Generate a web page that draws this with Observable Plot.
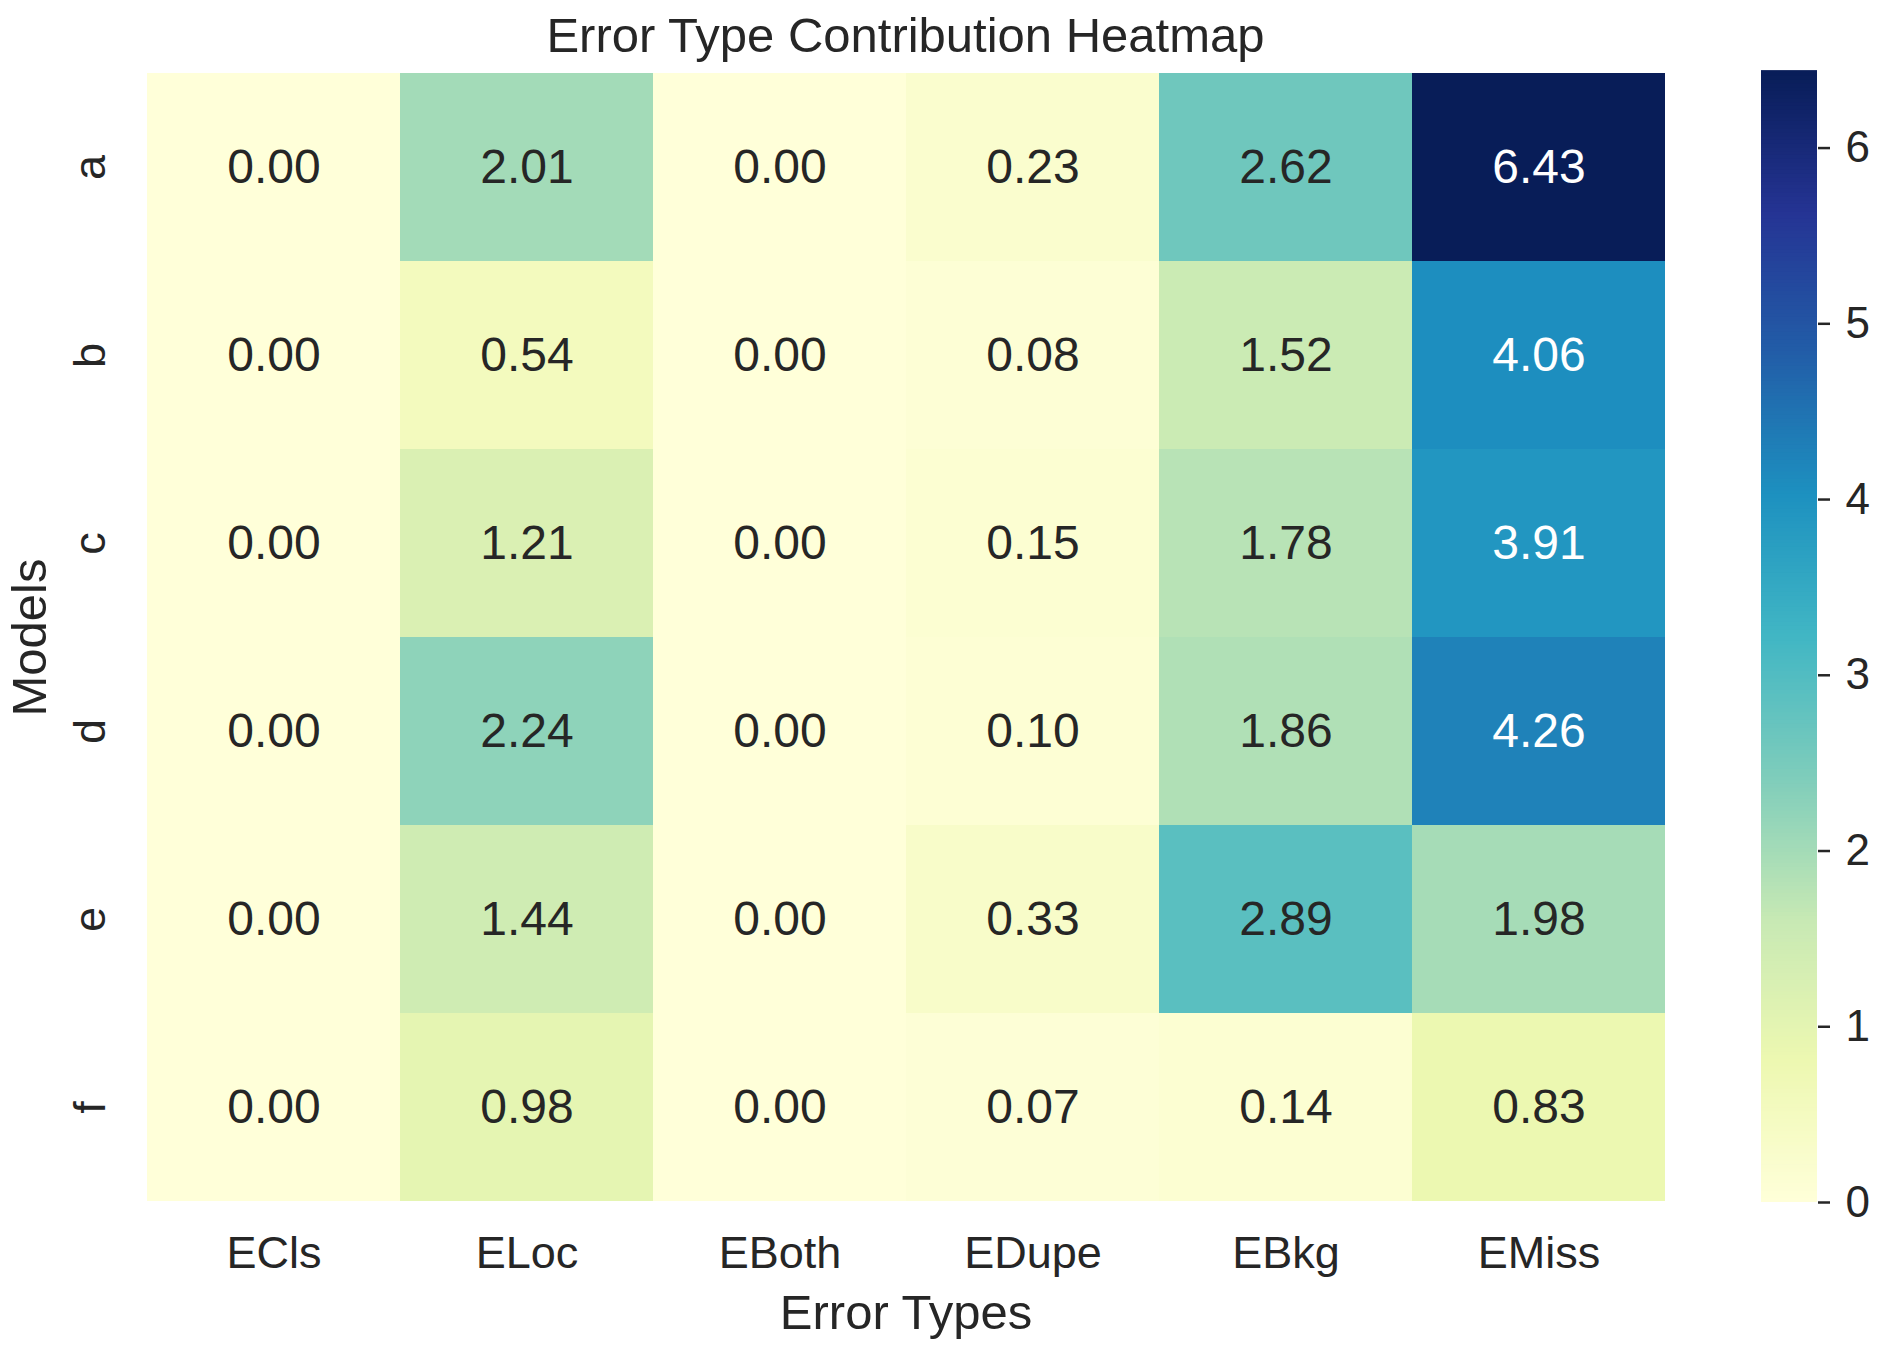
<!DOCTYPE html>
<html>
<head>
<meta charset="utf-8">
<script src="https://cdn.jsdelivr.net/npm/d3@7"></script>
<script src="https://cdn.jsdelivr.net/npm/@observablehq/plot@0.6"></script>
<style>
  html, body { margin: 0; padding: 0; background: #fff; }
  #wrap { position: relative; width: 1884px; height: 1348px; font-family: "Liberation Sans", Arial, sans-serif; color: #262626; }
  #main, #cbar { position: absolute; top: 0; }
  #main { left: 0; }
  #cbar { left: 1761px; }
  .title { position: absolute; top: 7px; left: 144px; width: 1523px; text-align: center; font-size: 49px; }
</style>
</head>
<body>
<div id="wrap">
  <div id="main"></div>
  <div id="cbar"></div>
  <div class="title">Error Type Contribution Heatmap</div>
</div>
<script>
const errorTypes = ["ECls", "ELoc", "EBoth", "EDupe", "EBkg", "EMiss"];
const models = ["a", "b", "c", "d", "e", "f"];
const valuesA = [0.00, 2.01, 0.00, 0.23, 2.62, 6.43];
const valuesB = [0.00, 0.54, 0.00, 0.08, 1.52, 4.06];
const valuesC = [0.00, 1.21, 0.00, 0.15, 1.78, 3.91];
const valuesD = [0.00, 2.24, 0.00, 0.10, 1.86, 4.26];
const valuesE = [0.00, 1.44, 0.00, 0.33, 2.89, 1.98];
const valuesF = [0.00, 0.98, 0.00, 0.07, 0.14, 0.83];
const colorbarTicks = [0, 1, 2, 3, 4, 5, 6];

const rows = [valuesA, valuesB, valuesC, valuesD, valuesE, valuesF];
const cells = [];
models.forEach((m, i) => errorTypes.forEach((t, j) => cells.push({model: m, type: t, value: rows[i][j]})));

const vmax = d3.max(cells, d => d.value);
const ylgnbu = ["#ffffd9", "#edf8b1", "#c7e9b4", "#7fcdbb", "#41b6c4", "#1d91c0", "#225ea8", "#253494", "#081d58"];
const interp = d3.piecewise(d3.interpolateRgb, ylgnbu);
const colorOpts = {type: "linear", domain: [0, vmax], interpolate: interp};

function lum(c) {
  const rgb = d3.rgb(c);
  const f = v => { v /= 255; return v <= 0.03928 ? v / 12.92 : Math.pow((v + 0.055) / 1.055, 2.4); };
  return 0.2126 * f(rgb.r) + 0.7152 * f(rgb.g) + 0.0722 * f(rgb.b);
}
const textColor = d => lum(interp(d.value / vmax)) > 0.408 ? "#262626" : "#ffffff";

const font = "Liberation Sans, Arial, sans-serif";
const W = 1884, H = 1348;
const mL = 144, mR = W - 1667, mT = 72, mB = H - 1202;

const main = Plot.plot({
  width: W, height: H,
  marginLeft: mL, marginRight: mR, marginTop: mT, marginBottom: mB,
  style: {fontFamily: font, color: "#262626", background: "transparent"},
  x: {domain: errorTypes, padding: 0, axis: null},
  y: {domain: models, padding: 0, axis: null},
  color: colorOpts,
  marks: [
    Plot.cell(cells, {x: "type", y: "model", fill: "value", inset: 0}),
    Plot.text(cells, {x: "type", y: "model", text: d => d.value.toFixed(2), fill: textColor, fontSize: 48}),
    Plot.text(errorTypes, {x: d => d, text: d => d, frameAnchor: "bottom", dy: 51, lineAnchor: "middle", fontSize: 45, fill: "#262626"}),
    Plot.text(models, {y: d => d, text: d => d, frameAnchor: "left", dx: -54, rotate: -90, lineAnchor: "middle", textAnchor: "middle", fontSize: 45, fill: "#262626"}),
    Plot.text(["Error Types"], {frameAnchor: "bottom", dy: 111, lineAnchor: "middle", fontSize: 49, fill: "#262626"}),
    Plot.text(["Models"], {frameAnchor: "left", dx: -114, rotate: -90, lineAnchor: "middle", textAnchor: "middle", fontSize: 49, fill: "#262626"})
  ]
});
document.getElementById("main").appendChild(main);

const N = 300;
const strips = d3.range(N);
const cbar = Plot.plot({
  width: 123, height: H,
  marginLeft: 0, marginRight: 67, marginTop: mT, marginBottom: mB,
  style: {fontFamily: font, color: "#262626", background: "transparent"},
  x: {domain: [0, 1], axis: null},
  y: {domain: [0, vmax], axis: null},
  color: colorOpts,
  marks: [
    Plot.rect(strips, {x1: 0, x2: 1, y1: i => i * vmax / N, y2: i => (i + 1) * vmax / N + vmax / N * 0.5, fill: i => (i + 0.5) * vmax / N}),
    Plot.axisY({anchor: "right", ticks: colorbarTicks, tickSize: 12, tickPadding: 16, strokeWidth: 2.5, fontSize: 44, label: null, tickFormat: d => String(d)})
  ]
});
document.getElementById("cbar").appendChild(cbar);
</script>
</body>
</html>
